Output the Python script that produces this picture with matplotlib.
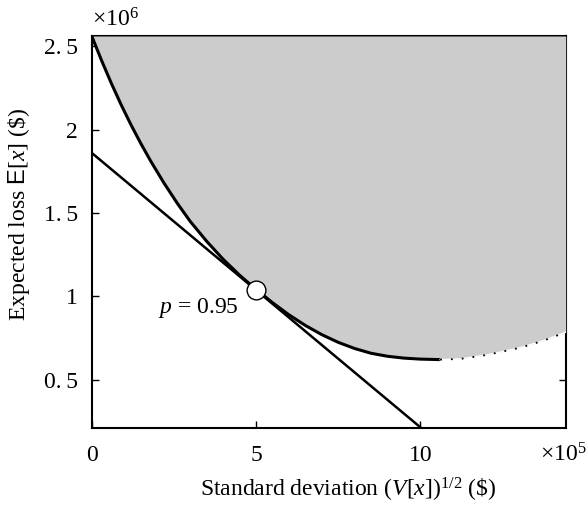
import matplotlib
matplotlib.use("Agg")
import matplotlib.pyplot as plt
import numpy as np

plt.rcParams['font.family'] = ['Liberation Serif', 'DejaVu Serif']
plt.rcParams['mathtext.fontset'] = 'custom'
plt.rcParams['mathtext.rm'] = 'Liberation Serif'
plt.rcParams['mathtext.it'] = 'Liberation Serif:italic'
plt.rcParams['mathtext.sf'] = 'Liberation Sans'

# frontier (x in 1e5 $, y in 1e6 $)
front_x = [0.0, 0.3, 0.6, 0.9, 1.2, 1.5, 1.8, 2.2, 2.6, 3.0, 3.5, 4.0, 4.5,
           5.0, 5.5, 6.0, 6.5, 7.0, 7.5, 8.0, 8.5, 9.0, 9.5, 10.0, 10.6]
front_y = [2.56, 2.413, 2.275, 2.146, 2.026, 1.914, 1.809, 1.679, 1.559, 1.449,
           1.33, 1.2225, 1.1275, 1.0425, 0.963, 0.8905, 0.8265, 0.7715, 0.7255,
           0.6885, 0.66, 0.642, 0.631, 0.625, 0.622]
# unreachable continuation (dotted)
ext_x = [10.6, 11.2, 12.02, 13.03, 13.74, 14.42]
ext_y = [0.622, 0.626, 0.650, 0.693, 0.735, 0.786]

# tangent line and tangent point
line_x = [0.0, 10.04]
line_y = [1.86, 0.21]
pt_x, pt_y = 5.0, 1.04
pt_label = r'$p$ = 0.95'

yticks = [0.5, 1, 1.5, 2, 2.5]
ytick_labels = ['0.\u20095', '1', '1.\u20095', '2', '2.\u20095']
xticks = [0, 5, 10]
xtick_labels = ['0', '5', '10']

xlim = (0, 14.42)
ylim = (0.21, 2.56)

fig = plt.figure(figsize=(5.88, 5.07), dpi=100)
ax = fig.add_axes([0.156, 0.155, 0.806, 0.774])

all_x = np.array(front_x + ext_x[1:])
all_y = np.array(front_y + ext_y[1:])
ax.fill_between(all_x, all_y, ylim[1], color='#cccccc', lw=0, zorder=3)

ax.plot(front_x, front_y, color='black', lw=2.2, zorder=4,
        solid_capstyle='butt', solid_joinstyle='round')
ax.plot(ext_x, ext_y, color='white', lw=1.0, zorder=4)
ax.plot(ext_x, ext_y, color='black', lw=1.3, ls=(0, (1, 5)), zorder=4)
ax.plot(line_x, line_y, color='black', lw=1.8, zorder=4)
ax.plot(pt_x, pt_y, 'o', ms=13.5, mfc='white', mec='black', mew=1.0, zorder=5)
ax.text(4.48, 0.90, pt_label, ha='right', va='baseline', fontsize=17, zorder=6)

ax.set_xlim(*xlim)
ax.set_ylim(*ylim)
ax.set_xticks(xticks)
ax.set_xticklabels(xtick_labels)
ax.set_yticks(yticks)
ax.set_yticklabels(ytick_labels)
ax.tick_params(direction='in', length=5, width=1, labelsize=17, pad=10,
               top=True, right=True)
ax.tick_params(axis='x', pad=12)
for s in ax.spines.values():
    s.set_linewidth(1.5)

ax.text(0.0, 1.012, r'$\times$10$^6$', transform=ax.transAxes, ha='left',
        va='bottom', fontsize=17)
fig.text(0.998, 0.1025, r'$\times$10$^5$', ha='right', va='center', fontsize=17)

ax.set_xlabel(r'Standard deviation ($V$[$x$])$^{1/2}$ (\$)', fontsize=17)
ax.xaxis.set_label_coords(0.541, -0.122)
ax.set_ylabel(r'Expected loss $\mathsf{E}$[$x$] (\$)', fontsize=17)
ax.yaxis.set_label_coords(-0.126, 0.544)

fig.savefig('out.png', dpi=100)
